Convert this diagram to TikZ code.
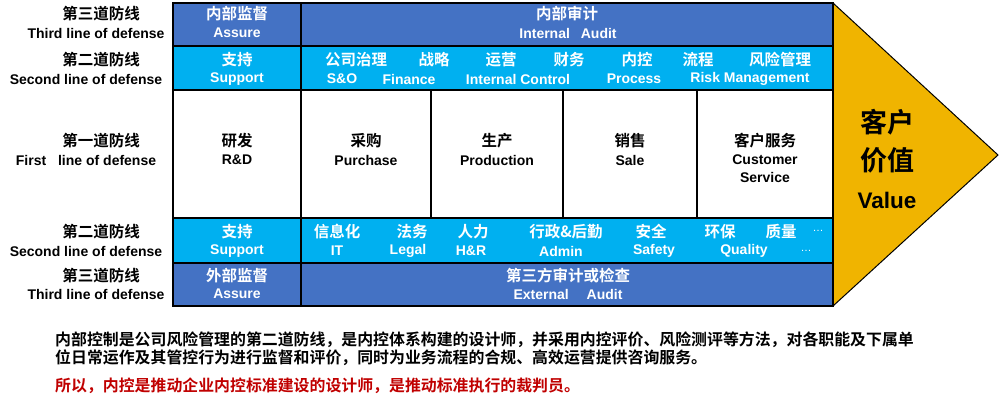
\documentclass[tikz,border=0pt]{standalone}
\usepackage{fontspec}
\setmainfont{Liberation Sans}[BoldFont={Liberation Sans Bold}]
\newfontfamily\cjk{Noto Sans CJK SC}[BoldFont={Noto Sans CJK SC Bold}]
\definecolor{dblue}{HTML}{4472C4}
\definecolor{lblue}{HTML}{00B0F0}
\definecolor{gold}{HTML}{F0B400}
\definecolor{dred}{HTML}{C00000}
\begin{document}
\begin{tikzpicture}[x=1pt,y=-1pt,
  zh/.style={font=\cjk\bfseries\fontsize{15.5}{16}\selectfont, inner sep=0pt},
  en/.style={font=\bfseries\fontsize{14}{15}\selectfont, inner sep=0pt},
  wt/.style={text=white},
  grid/.style={line width=2pt, black},
  para/.style={font=\cjk\bfseries\fontsize{15.9}{17}\selectfont, inner sep=0pt, anchor=west}
]
\useasboundingbox (0,0) rectangle (1000,402);
% arrow
\filldraw[fill=gold, draw=black, line width=1pt] (833,3) -- (998,155) -- (833,306) -- cycle;
% rows
\fill[dblue] (173,3) rectangle (833,45.5);
\fill[lblue] (173,45.5) rectangle (833,90);
\fill[white] (173,90) rectangle (833,218);
\fill[lblue] (173,218) rectangle (833,262.5);
\fill[dblue] (173,262.5) rectangle (833,306);
% grid
\draw[grid] (173,3) rectangle (833,306);
\foreach \yy in {45.5,90,218,262.5} \draw[grid] (173,\yy) -- (833,\yy);
\draw[grid] (301,3) -- (301,306);
\foreach \xx in {431,563,697} \draw[grid] (\xx,90) -- (\xx,218);

% left labels
\node[zh] (l1a) at (101,14) {第三道防线};
\node[en] (l1b) at (96,33) {Third line of defense};
\node[zh] (l2a) at (101,60) {第二道防线};
\node[en] (l2b) at (86,79) {Second line of defense};
\node[zh] (l3a) at (101,141) {第一道防线};
\node[en] (l3b) at (86,160) {First\hspace{8pt} line of defense};
\node[zh] (l4a) at (101,232) {第二道防线};
\node[en] (l4b) at (86,251) {Second line of defense};
\node[zh] (l5a) at (101,276) {第三道防线};
\node[en] (l5b) at (96,294) {Third line of defense};

% row 1
\node[zh,wt] (r1a) at (237,14) {内部监督};
\node[en,wt] (r1b) at (237,33) {Assure};
\node[zh,wt] (r1c) at (567,14) {内部审计};
\node[en,wt] (r1d) at (568,33) {Internal\hspace{7pt} Audit};

% row 2
\node[zh,wt] (r2a) at (237,60) {支持};
\node[en,wt] (r2b) at (237,79) {Support};
\node[zh,wt] (r2c) at (356,60) {公司治理};
\node[zh,wt] (r2d) at (434,60) {战略};
\node[zh,wt] (r2e) at (501,60) {运营};
\node[zh,wt] (r2f) at (569,60) {财务};
\node[zh,wt] (r2g) at (637,60) {内控};
\node[zh,wt] (r2h) at (698,60) {流程};
\node[zh,wt] (r2i) at (780,60) {风险管理};
\node[en,wt] (r2j) at (342,79) {S\&O};
\node[en,wt] (r2k) at (409,79) {Finance};
\node[en,wt] (r2l) at (518,79) {Internal Control};
\node[en,wt] (r2m) at (634,79) {Process};
\node[en,wt] (r2n) at (750,79) {Risk Management};

% row 3
\node[zh] (r3a) at (237,141) {研发};
\node[en] (r3b) at (237,160) {R\&D};
\node[zh] (r3c) at (366,141) {采购};
\node[en] (r3d) at (366,160) {Purchase};
\node[zh] (r3e) at (497,141) {生产};
\node[en] (r3f) at (497,160) {Production};
\node[zh] (r3g) at (630,141) {销售};
\node[en] (r3h) at (630,160) {Sale};
\node[zh] (r3i) at (765,141) {客户服务};
\node[en] (r3j) at (765,160) {Customer};
\node[en] (r3k) at (765,177) {Service};

% row 4
\node[zh,wt] (r4a) at (237,232) {支持};
\node[en,wt] (r4b) at (237,251) {Support};
\node[zh,wt] (r4c) at (337,232) {信息化};
\node[zh,wt] (r4d) at (412,232) {法务};
\node[zh,wt] (r4e) at (473,232) {人力};
\node[zh,wt] (r4f) at (566,232) {行政\&后勤};
\node[zh,wt] (r4g) at (651,232) {安全};
\node[zh,wt] (r4h) at (720,232) {环保};
\node[zh,wt] (r4i) at (781,232) {质量};
\node[en,wt,font=\fontsize{11}{12}\selectfont] (r4j) at (818,231) {…};
\node[en,wt] (r4k) at (337,251) {IT};
\node[en,wt] (r4l) at (408,251) {Legal};
\node[en,wt] (r4m) at (471,251) {H\&R};
\node[en,wt] (r4n) at (561,251) {Admin};
\node[en,wt] (r4o) at (654,251) {Safety};
\node[en,wt] (r4p) at (744,251) {Quality};
\node[en,wt,font=\fontsize{11}{12}\selectfont] (r4q) at (806,251) {…};

% row 5
\node[zh,wt] (r5a) at (237,276) {外部监督};
\node[en,wt] (r5b) at (237,294) {Assure};
\node[zh,wt] (r5c) at (568,276) {第三方审计或检查};
\node[en,wt] (r5d) at (568,294) {External\hspace{14pt} Audit};

% arrow text
\node[font=\cjk\bfseries\fontsize{27}{28}\selectfont, inner sep=0pt] (v1) at (887,122) {客户};
\node[font=\cjk\bfseries\fontsize{27}{28}\selectfont, inner sep=0pt] (v2) at (887,160) {价值};
\node[font=\bfseries\fontsize{22.5}{24}\selectfont, inner sep=0pt] (v3) at (887,200) {Value};

% paragraph
\node[para] (p1) at (55,340) {内部控制是公司风险管理的第二道防线，是内控体系构建的设计师，并采用内控评价、风险测评等方法，对各职能及下属单};
\node[para] (p2) at (55,357.5) {位日常运作及其管控行为进行监督和评价，同时为业务流程的合规、高效运营提供咨询服务。};
\node[para, text=dred] (p3) at (55,386) {所以，内控是推动企业内控标准建设的设计师，是推动标准执行的裁判员。};
\end{tikzpicture}
\end{document}
